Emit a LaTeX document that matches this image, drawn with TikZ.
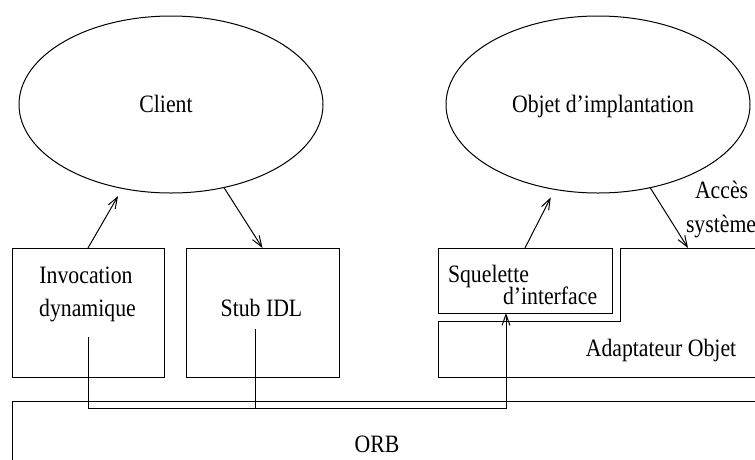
\documentclass[tikz,border=0pt]{standalone}
\usepackage{fontspec}
\setmainfont{Liberation Serif}[FakeStretch=0.87]
\usetikzlibrary{arrows.meta,shapes.geometric}
\begin{document}
\begin{tikzpicture}[x=1pt,y=-1pt,
  every node/.style={font=\fontsize{25}{30}\selectfont, inner sep=0pt, outer sep=0pt},
  line/.style={line width=1pt},
  arr/.style={line width=1pt, -{Straight Barb[length=11pt,width=8pt,line width=1pt]}},
  box/.style={draw, line width=1pt, rectangle, anchor=north west},
  oval/.style={draw, line width=1pt, ellipse, minimum width=304pt, minimum height=177pt},
  txt/.style={anchor=base}
]
\clip (0,0) rectangle (755,459);
\useasboundingbox (0,0) rectangle (755,459);

% ellipses
\node[oval] (client) at (171,104.5) {};
\node[txt] (clientt) at (166,112) {Client};
\node[oval] (objet) at (598,104.5) {};
\node[txt] (objett) at (603,112) {Objet d’implantation};

% client-side boxes
\node[box, minimum width=152pt, minimum height=129pt] (inv) at (12,248) {};
\node[txt] (invt1) at (86,283) {Invocation};
\node[txt] (invt2) at (87.5,316.5) {dynamique};
\node[box, minimum width=153pt, minimum height=129pt] (stub) at (186,248) {};
\node[txt] (stubt) at (261.5,316.5) {Stub IDL};

% server-side
\node[box, minimum width=174pt, minimum height=65pt] (squel) at (438,248) {};
\node[txt, anchor=base west] (squelt1) at (448,282) {Squelette};
\node[txt, anchor=base west] (squelt2) at (503,304) {d’interface};
\draw[line] (770,248) -- (620,248) -- (620,321) -- (438,321) -- (438,377) -- (770,377);
\node[txt] (adapt) at (661,356) {Adaptateur Objet};
\node[txt, anchor=base west] (acces1) at (695,198) {Accès};
\node[txt, anchor=base west] (acces2) at (686,232) {système};

% ORB
\node[box, minimum width=770pt, minimum height=90pt] (orb) at (12,401) {};
\node[txt] (orbt) at (377,452) {ORB};

% connectors
\draw[arr, shorten >=9pt] (inv.north) -- (client);
\draw[arr] (client) -- (stub.north);
\draw[arr, shorten >=9pt] (squel.north) -- (objet);
\coordinate (acc) at (688,248);
\draw[arr] (objet) -- (acc);

\coordinate (invout) at (88,337);
\coordinate (stubout) at (255,329);
\coordinate (sqin) at (506,313);
\coordinate (bus) at (0,408);
\draw[arr] (invout) -- (invout |- bus) -- (sqin |- bus) -- (sqin);
\draw[line] (stubout) -- (stubout |- bus);
\end{tikzpicture}
\end{document}
